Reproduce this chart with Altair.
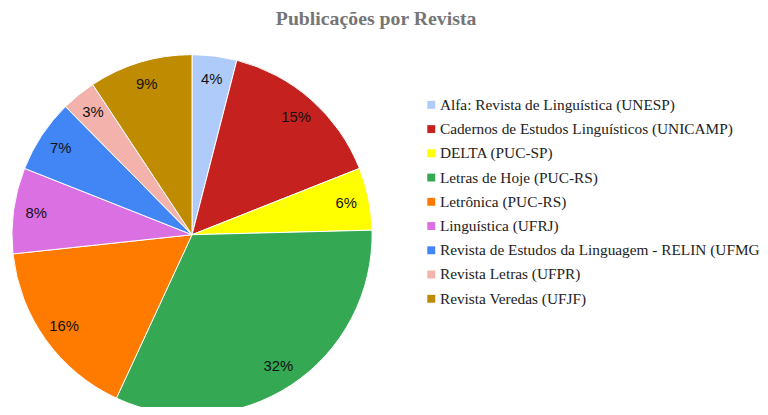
import altair as alt
import pandas as pd

revistas = [
    "Alfa: Revista de Linguística (UNESP)",
    "Cadernos de Estudos Linguísticos (UNICAMP)",
    "DELTA (PUC-SP)",
    "Letras de Hoje (PUC-RS)",
    "Letrônica (PUC-RS)",
    "Linguística (UFRJ)",
    "Revista de Estudos da Linguagem - RELIN (UFMG)",
    "Revista Letras (UFPR)",
    "Revista Veredas (UFJF)",
]
percentuais = [4.0, 15.0, 5.6, 32.3, 16.4, 7.7, 6.6, 3.1, 9.3]
rotulos = ["4%", "15%", "6%", "32%", "16%", "8%", "7%", "3%", "9%"]
cores = [
    "#AECBFA", "#C5221F", "#FFFF00", "#34A853", "#FF7B00",
    "#DA70E2", "#4285F4", "#F4B2AC", "#BF8B00",
]
titulo = "Publicações por Revista"

df = pd.DataFrame({
    "revista": revistas,
    "valor": percentuais,
    "rotulo": rotulos,
    "ordem": list(range(len(revistas))),
})

dx = 4
cx, cy = 182 + dx, 227

base = alt.Chart(df).encode(
    theta=alt.Theta("valor:Q", stack=True),
    order=alt.Order("ordem:Q"),
)

pie = base.mark_arc(outerRadius=182, stroke="white", strokeWidth=1).encode(
    color=alt.Color(
        "revista:N",
        sort=revistas,
        scale=alt.Scale(domain=revistas, range=cores),
        legend=alt.Legend(
            title=None,
            orient="none",
            legendX=416 + dx,
            legendY=88,
            symbolType="square",
            symbolSize=64,
            symbolStrokeWidth=0,
            labelFont="Liberation Serif",
            labelFontSize=15.5,
            labelColor="#222222",
            labelLimit=500,
            labelOffset=1,
            rowPadding=7.5,
        ),
    ),
    x=alt.value(cx),
    y=alt.value(cy),
)

labels = base.mark_text(
    radius=159, font="Liberation Sans", fontSize=15, color="#111111"
).encode(
    text="rotulo:N",
    x=alt.value(cx),
    y=alt.value(cy),
)

title = alt.Chart(pd.DataFrame({"t": [titulo]})).mark_text(
    font="Liberation Serif", fontSize=20, fontWeight="bold", color="#757575",
    baseline="alphabetic", align="center",
).encode(
    text="t:N",
    x=alt.value(368 + dx),
    y=alt.value(15),
)

chart = alt.layer(pie, labels, title).properties(
    width=760,
    height=399,
    autosize=alt.AutoSizeParams(type="none"),
    padding=0,
).configure_view(stroke=None)

chart.save("out.html", embed_options={"renderer": "svg", "actions": False})
